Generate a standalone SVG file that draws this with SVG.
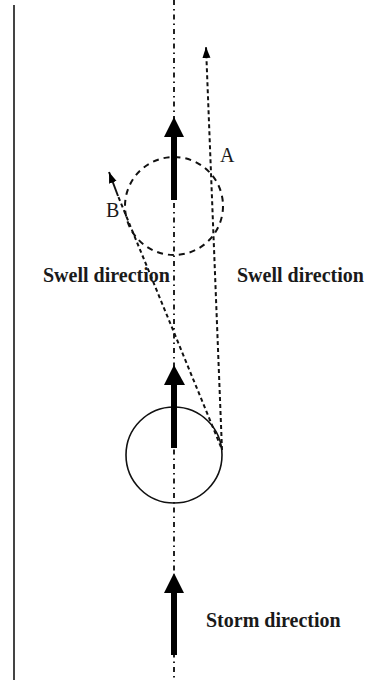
<svg xmlns="http://www.w3.org/2000/svg" width="389" height="680" viewBox="0 0 389 680">
<defs>
<style>
.lbl{font-family:"Liberation Serif","Times New Roman",serif;font-size:20px;font-weight:bold;fill:#1a1a1a}
.ltr{font-family:"Liberation Serif","Times New Roman",serif;font-size:20px;fill:#1a1a1a}
.dash{fill:none;stroke:#111;stroke-width:2;stroke-dasharray:4 3}
.axis{fill:none;stroke:#222;stroke-width:2;stroke-dasharray:5 4 1.5 4}
.big{fill:#000}
</style>
<marker id="ah" markerUnits="userSpaceOnUse" markerWidth="12" markerHeight="10" refX="11" refY="4" orient="auto">
<path d="M0,0 L11,4 L0,8 z" fill="#000"/>
</marker>
</defs>
<rect width="389" height="680" fill="#fff"/>
<line x1="14" y1="5" x2="14" y2="680" stroke="#444" stroke-width="2"/>
<line class="axis" x1="174" y1="0" x2="174" y2="680"/>

<g id="swell-circle">
<circle cx="174" cy="206" r="49" fill="none" stroke="#111" stroke-width="2" stroke-dasharray="6 5"/>
</g>
<g id="storm-circle">
<circle cx="174" cy="455" r="48" fill="none" stroke="#111" stroke-width="1.6"/>
</g>

<g id="arrow-top">
<rect class="big" x="171" y="136" width="6" height="64"/>
<polygon class="big" points="164,137 184,137 174,117"/>
</g>
<g id="arrow-mid">
<rect class="big" x="171" y="384" width="6" height="64"/>
<polygon class="big" points="164,385 185,385 174,365"/>
</g>
<g id="arrow-bottom">
<rect class="big" x="171" y="592" width="6" height="63"/>
<polygon class="big" points="164,593 184,593 174,573"/>
</g>

<g id="connectors">
<line class="dash" x1="222" y1="450" x2="206" y2="47" marker-end="url(#ah)"/>
<line class="dash" x1="221" y1="447" x2="118" y2="196"/>
<line x1="118" y1="196" x2="109" y2="172" stroke="#111" stroke-width="2" marker-end="url(#ah)"/>
</g>

<g id="label-A"><text class="ltr" x="220" y="162">A</text></g>
<g id="label-B"><text class="ltr" x="106" y="217">B</text></g>
<g id="label-swell-left"><text class="lbl" x="43" y="282">Swell direction</text></g>
<g id="label-swell-right"><text class="lbl" x="237" y="282">Swell direction</text></g>
<g id="label-storm"><text class="lbl" x="206" y="627">Storm direction</text></g>
</svg>
